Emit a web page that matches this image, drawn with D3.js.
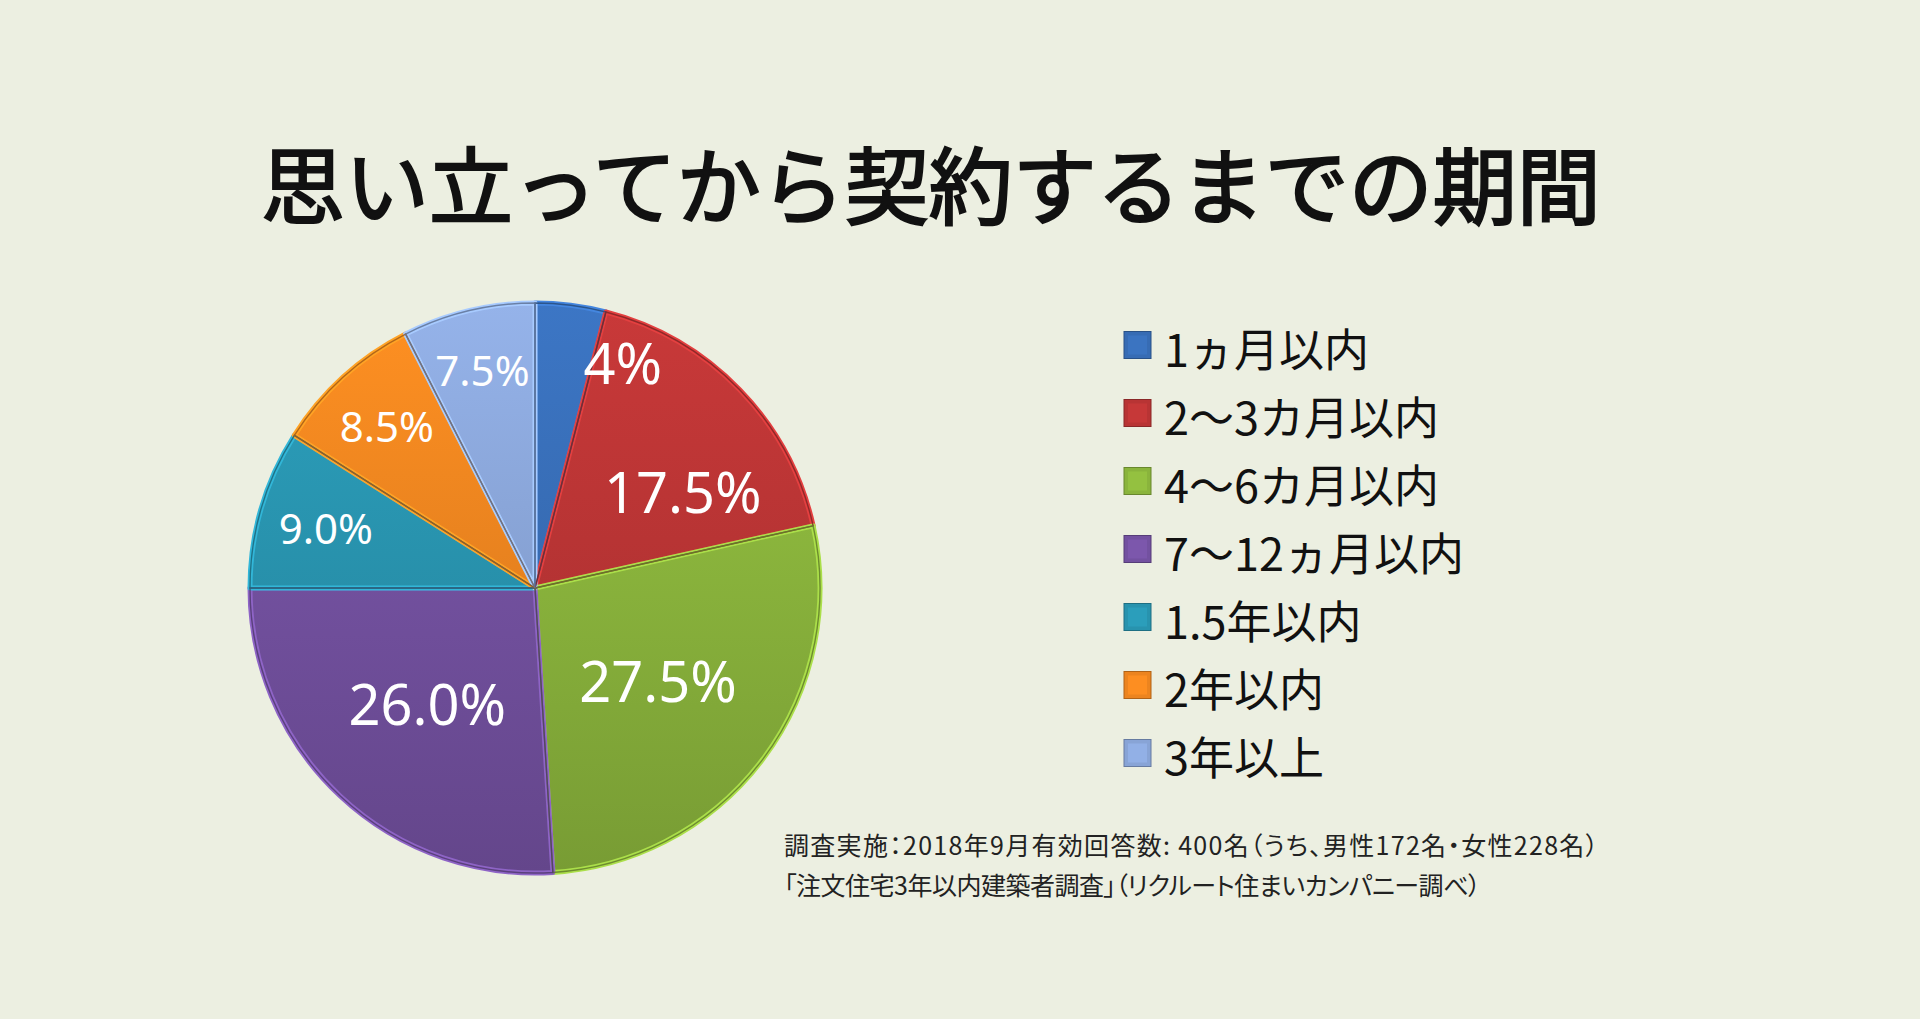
<!DOCTYPE html>
<html>
<head>
<meta charset="utf-8">
<script src="https://cdn.jsdelivr.net/npm/d3@7"></script>
<style>
  html, body { margin: 0; padding: 0; background: #ecefe1; }
  svg { display: block; }
</style>
</head>
<body>
<div class="chart"></div>
<script>
const title = '思い立ってから契約するまでの期間';
const categories = ['1ヵ月以内', '2〜3カ月以内', '4〜6カ月以内', '7〜12ヵ月以内', '1.5年以内', '2年以内', '3年以上'];
const values = [4, 17.5, 27.5, 26.0, 9.0, 8.5, 7.5];
const valueLabels = ['4%', '17.5%', '27.5%', '26.0%', '9.0%', '8.5%', '7.5%'];
const colors = ['#376cb4', '#b83434', '#8ab43c', '#7351a0', '#2893ae', '#ec841f', '#88a4d6'];
const notes = [
  '調査実施：2018年9月有効回答数: 400名（うち、男性172名・女性228名）',
  '「注文住宅3年以内建築者調査」（リクルート住まいカンパニー調べ）'
];

const w = 1920;
const h = 1019;
const cx = 535, cy = 588, r = 285;

const svg = d3.select('div.chart')
  .append('svg')
  .attr('width', w)
  .attr('height', h);

svg.append('rect')
  .attr('width', w)
  .attr('height', h)
  .attr('fill', '#ecefe1');

// title (regular weight thickened a little with a stroke)
svg.append('text')
  .attr('x', 261)
  .attr('y', 181)
  .attr('dominant-baseline', 'central')
  .attr('font-family', '"Noto Sans CJK JP", sans-serif')
  .attr('font-size', 84)
  .attr('fill', '#111')
  .attr('stroke', '#111')
  .attr('stroke-width', 2.2)
  .text(title);

const data = categories.map((c, i) => ({cat: c, value: values[i], label: valueLabels[i], color: colors[i]}));

const pie = d3.pie().sort(null).value(d => d.value);
const arcs = pie(data);
const arc = d3.arc().innerRadius(0).outerRadius(r);

// gradients, lighter at top and darker at bottom
const defs = svg.append('defs');
data.forEach((d, i) => {
  const g = defs.append('linearGradient')
    .attr('id', 'grad' + i)
    .attr('gradientUnits', 'userSpaceOnUse')
    .attr('x1', 0).attr('y1', -r)
    .attr('x2', 0).attr('y2', r);
  g.append('stop').attr('offset', '0%').attr('stop-color', d3.color(d.color).brighter(0.25));
  g.append('stop').attr('offset', '100%').attr('stop-color', d3.color(d.color).darker(0.4));
});

const pieG = svg.append('g')
  .attr('transform', 'translate(' + cx + ',' + cy + ')');

pieG.selectAll('path.slice')
  .data(arcs)
  .enter()
  .append('path')
  .attr('class', 'slice')
  .attr('d', arc)
  .attr('fill', (d, i) => 'url(#grad' + i + ')')
  .attr('stroke', d => d3.color(d.data.color).brighter(0.6))
  .attr('stroke-width', 5)
  .attr('stroke-linejoin', 'round');

pieG.selectAll('path.edge')
  .data(arcs)
  .enter()
  .append('path')
  .attr('class', 'edge')
  .attr('d', arc)
  .attr('fill', 'none')
  .attr('stroke', d => d3.color(d.data.color).darker(1))
  .attr('stroke-width', 1.4)
  .attr('stroke-opacity', 0.85);

// labels: small slices further out, big slices closer to the centre
const labelR = d3.scaleLinear().domain([7.5, 17.5, 27.5]).range([0.79 * r, 0.62 * r, 0.54 * r]);
function labelAngle(d, i) {
  const mid = (d.startAngle + d.endAngle) / 2;
  if (d.data.value < 5) return d.endAngle + 0.12;
  if (i > 0 && arcs[i - 1].data.value < 5) return mid + 0.19;
  return mid;
}

pieG.selectAll('text.lbl')
  .data(arcs)
  .enter()
  .append('text')
  .attr('class', 'lbl')
  .attr('x', (d, i) => Math.sin(labelAngle(d, i)) * labelR(d.data.value))
  .attr('y', (d, i) => -Math.cos(labelAngle(d, i)) * labelR(d.data.value))
  .attr('text-anchor', 'middle')
  .attr('dominant-baseline', 'central')
  .attr('font-family', '"Noto Sans", "Open Sans", sans-serif')
  .attr('font-size', d => (d.data.value >= 5 && d.data.value < 10) ? 42 : 56)
  .attr('fill', '#fff')
  .text(d => d.data.label);

// legend
const yLegend = d3.scalePoint().domain(categories).range([345, 753]);
const legend = svg.append('g');
const items = legend.selectAll('g')
  .data(data)
  .enter()
  .append('g')
  .attr('transform', d => 'translate(1124,' + yLegend(d.cat) + ')');

items.append('rect')
  .attr('x', 0)
  .attr('y', -13.5)
  .attr('width', 27)
  .attr('height', 27)
  .attr('fill', d => d.color)
  .attr('stroke', d => d3.color(d.color).darker(0.8))
  .attr('stroke-width', 1);

items.append('rect')
  .attr('x', 4)
  .attr('y', -9.5)
  .attr('width', 19)
  .attr('height', 19)
  .attr('fill', d => d3.color(d.color).brighter(0.2));

items.append('text')
  .attr('x', 40)
  .attr('y', 2)
  .attr('dominant-baseline', 'central')
  .attr('font-family', '"Noto Sans CJK JP", sans-serif')
  .attr('font-size', 45)
  .attr('fill', '#111')
  .text(d => d.cat);

// source notes
svg.selectAll('text.note')
  .data(notes)
  .enter()
  .append('text')
  .attr('class', 'note')
  .attr('x', 784)
  .attr('y', (d, i) => 844 + i * 40)
  .attr('dominant-baseline', 'central')
  .attr('font-family', '"Noto Sans CJK JP", sans-serif')
  .attr('font-size', 25)
  .attr('letter-spacing', (d, i) => i === 0 ? 1.3 : -0.5)
  .style('font-feature-settings', '"palt"')
  .attr('fill', '#222')
  .text(d => d);
</script>
</body>
</html>
